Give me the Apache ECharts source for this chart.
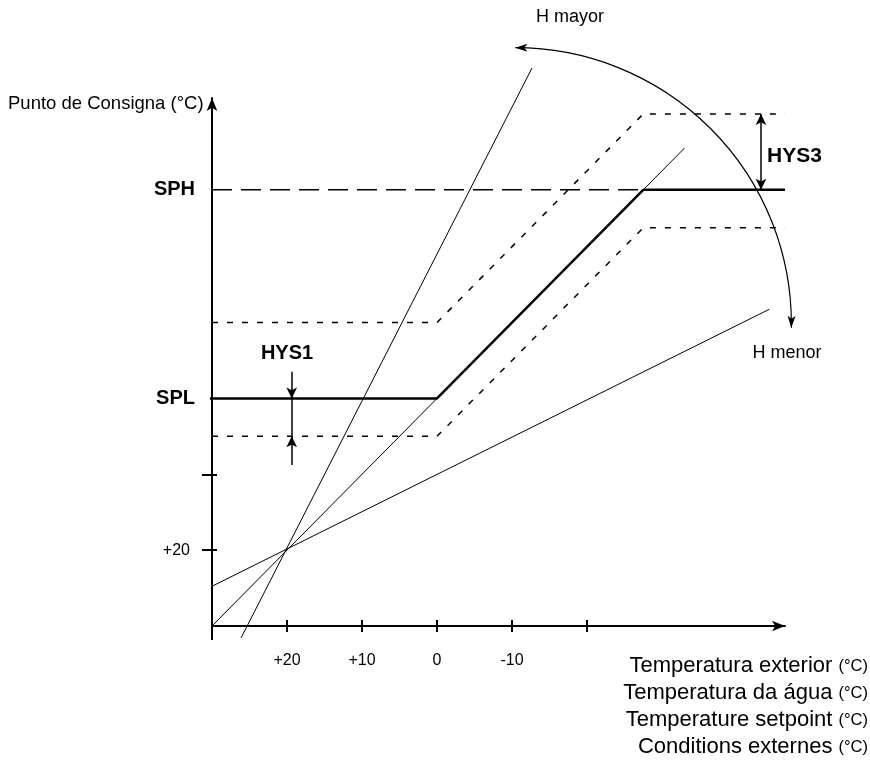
<!DOCTYPE html>
<html><head><meta charset="utf-8">
<script src="https://cdn.jsdelivr.net/npm/echarts@6/dist/echarts.min.js"></script>
<style>html,body{margin:0;padding:0;background:#fff}#c{width:870px;height:767px}</style>
</head><body><div id="c"></div>
<script>
// ---- data (°C) ----
const xTickValues = [20, 10, 0, -10, -20];
const xTickLabels = ['+20', '+10', '0', '-10', ''];
const yTickValues = [20, 30];
const yLabelValues = [20, 40, 67.5];
const yLabelTexts = ['+20', 'SPL', 'SPH'];
const lineHMayor = [[26.13, 8.42], [-12.67, 83.56]];
const lineMid = [[30, 10], [-33, 73]];
const lineHMenor = [[31.73, 14.39], [-44.31, 51.75]];
const curveMain = [[30.4, 40], [0, 40], [-27.5, 67.5], [-46.4, 67.5]];
const curveUpper = [[30, 50], [0, 50], [-27.5, 77.5], [-46.4, 77.5]];
const curveLower = [[30, 35], [0, 35], [-27.5, 62.5], [-46.4, 62.5]];
const sphDashed = [[30, 67.5], [-27.5, 67.5]];
const axisStubX = [[31.07, 10], [30, 10]];
const axisStubY = [[30, 10], [30, 8.15]];
const hys1X = 19.37;
const hys1Down = [43.52, 40];
const hys1Mid = [40, 35];
const hys1Up = [31.22, 35];
const hys3X = -43.2;
const hys3 = [67.5, 77.5];
const arcCenter = [[-10.45, 49.85]];
const bottomTitles = ['Temperatura exterior', 'Temperatura da água', 'Temperature setpoint', 'Conditions externes'];
const yTitle = 'Punto de Consigna (°C)';

// ---- styles ----
const FONT = "'Liberation Sans', Arial, sans-serif";
const ARC_R = 276;
const X_MIN = -46.4, X_MAX = 30, Y_MIN = 10, Y_MAX = 79.6;
const GRID = {left: 212, top: 98, width: 573, height: 528};
const chart = echarts.init(document.getElementById('c'), null, {renderer: 'canvas'});

function thin(data, w, type) {
  return {type: 'line', data: data, symbol: 'none', clip: false, silent: true, animation: false,
    lineStyle: {color: '#000', width: w, type: type || 'solid'}};
}
function arrowPts(tip, dx, dy, len, hw) {
  const bx = tip[0] - dx * len, by = tip[1] - dy * len;
  const px = -dy, py = dx;
  return [tip, [bx + px * hw, by + py * hw], [tip[0] - dx * len * 0.75, tip[1] - dy * len * 0.75], [bx - px * hw, by - py * hw]];
}
const tickStyle = {color: '#000', width: 2};

const option = {
  backgroundColor: '#fff',
  animation: false,
  grid: [Object.assign({containLabel: false}, GRID), Object.assign({containLabel: false}, GRID)],
  xAxis: [{
    type: 'value', gridIndex: 0, inverse: true, min: X_MIN, max: X_MAX, position: 'bottom',
    splitLine: {show: false},
    axisLine: {show: true, onZero: false, symbol: ['none', 'arrow'], symbolSize: [8, 13], lineStyle: {color: '#000', width: 2}},
    axisTick: {show: true, customValues: xTickValues, length: 6, lineStyle: tickStyle},
    axisLabel: {show: true, customValues: xTickValues, margin: 27, color: '#000', fontSize: 16, fontFamily: FONT,
      formatter: function (v) { const i = xTickValues.indexOf(v); return i >= 0 ? xTickLabels[i] : ''; }}
  }, {
    type: 'value', gridIndex: 1, inverse: true, min: X_MIN, max: X_MAX, position: 'bottom',
    splitLine: {show: false}, axisLine: {show: false, onZero: false}, axisLabel: {show: false},
    axisTick: {show: true, inside: true, customValues: xTickValues, length: 6, lineStyle: tickStyle}
  }],
  yAxis: [{
    type: 'value', gridIndex: 0, min: Y_MIN, max: Y_MAX, position: 'left',
    splitLine: {show: false},
    axisLine: {show: true, onZero: false, symbol: ['none', 'arrow'], symbolSize: [8, 13], lineStyle: {color: '#000', width: 2}},
    axisTick: {show: true, customValues: yTickValues, length: 10, lineStyle: tickStyle},
    axisLabel: {show: true, customValues: yLabelValues, margin: 17, color: '#000', fontFamily: FONT,
      formatter: function (v) { const i = yLabelValues.indexOf(v); if (i < 0) return ''; return i === 0 ? '{n|' + yLabelTexts[i] + '}' : '{b|' + yLabelTexts[i] + '}'; },
      rich: {n: {fontSize: 16, fontFamily: FONT, color: '#000', padding: [0, 5, 0, 0]},
             b: {fontSize: 20, fontWeight: 'bold', fontFamily: FONT, color: '#000'}}}
  }, {
    type: 'value', gridIndex: 1, min: Y_MIN, max: Y_MAX, position: 'left',
    splitLine: {show: false}, axisLine: {show: false, onZero: false}, axisLabel: {show: false},
    axisTick: {show: true, inside: true, customValues: yTickValues, length: 5, lineStyle: tickStyle}
  }],
  series: [
    thin(axisStubX, 2), thin(axisStubY, 2),
    thin(lineHMayor, 1), thin(lineMid, 1), thin(lineHMenor, 1),
    thin(sphDashed, 1.5, [20, 9]),
    thin(curveUpper, 1.5, [6, 9]), thin(curveLower, 1.5, [6, 9]),
    thin(curveMain, 2.5),
    {type: 'line', data: [], symbol: 'none', silent: true, animation: false,
      markLine: {silent: true, animation: false, symbol: ['none', 'arrow'], symbolSize: [8, 11],
        label: {show: false}, lineStyle: {color: '#000', width: 1.5, type: 'solid'},
        data: [
          [{coord: [hys1X, hys1Down[0]], symbol: 'none'}, {coord: [hys1X, hys1Down[1]], symbol: 'arrow'}],
          [{coord: [hys1X, hys1Mid[0]], symbol: 'none'}, {coord: [hys1X, hys1Mid[1]], symbol: 'none'}],
          [{coord: [hys1X, hys1Up[0]], symbol: 'none'}, {coord: [hys1X, hys1Up[1]], symbol: 'arrow'}],
          [{coord: [hys3X, hys3[0]], symbol: 'arrow'}, {coord: [hys3X, hys3[1]], symbol: 'arrow'}]
        ]}},
    {type: 'custom', coordinateSystem: 'cartesian2d', clip: false, silent: true, animation: false, data: arcCenter,
      renderItem: function (params, api) {
        const c = api.coord([api.value(0), api.value(1)]);
        const a0 = -Math.PI / 2, a1 = 0.015;
        const t0 = [c[0] + ARC_R * Math.cos(a0), c[1] + ARC_R * Math.sin(a0)];
        const t1 = [c[0] + ARC_R * Math.cos(a1), c[1] + ARC_R * Math.sin(a1)];
        return {type: 'group', children: [
          {type: 'arc', shape: {cx: c[0], cy: c[1], r: ARC_R, startAngle: a0, endAngle: a1, clockwise: true},
            style: {stroke: '#000', lineWidth: 1.2, fill: null}},
          {type: 'polygon', shape: {points: arrowPts(t0, Math.sin(a0), -Math.cos(a0), 12, 4)}, style: {fill: '#000'}},
          {type: 'polygon', shape: {points: arrowPts(t1, -Math.sin(a1), Math.cos(a1), 12, 4)}, style: {fill: '#000'}}
        ]};
      }}
  ],
  graphic: [
    {type: 'text', x: 8, y: 104, style: {text: yTitle, font: '18.5px ' + FONT, fill: '#000', verticalAlign: 'middle'}},
    {type: 'text', x: 570, y: 17, style: {text: 'H mayor', font: '18px ' + FONT, fill: '#000', align: 'center', verticalAlign: 'middle'}},
    {type: 'text', x: 787, y: 353, style: {text: 'H menor', font: '18px ' + FONT, fill: '#000', align: 'center', verticalAlign: 'middle'}},
    {type: 'text', x: 287, y: 353, style: {text: 'HYS1', font: 'bold 20px ' + FONT, fill: '#000', align: 'center', verticalAlign: 'middle'}},
    {type: 'text', x: 767, y: 156, style: {text: 'HYS3', font: 'bold 21px ' + FONT, fill: '#000', align: 'left', verticalAlign: 'middle'}}
  ].concat(bottomTitles.map(function (t, i) {
    return {type: 'text', x: 868, y: 666 + i * 27, style: {
      text: '{a|' + t + ' }{b|(°C)}', align: 'right', verticalAlign: 'middle',
      rich: {a: {fontSize: 22, fontFamily: FONT, color: '#000'}, b: {fontSize: 16.5, fontFamily: FONT, color: '#000'}}}};
  }))
};
chart.setOption(option);
</script></body></html>
